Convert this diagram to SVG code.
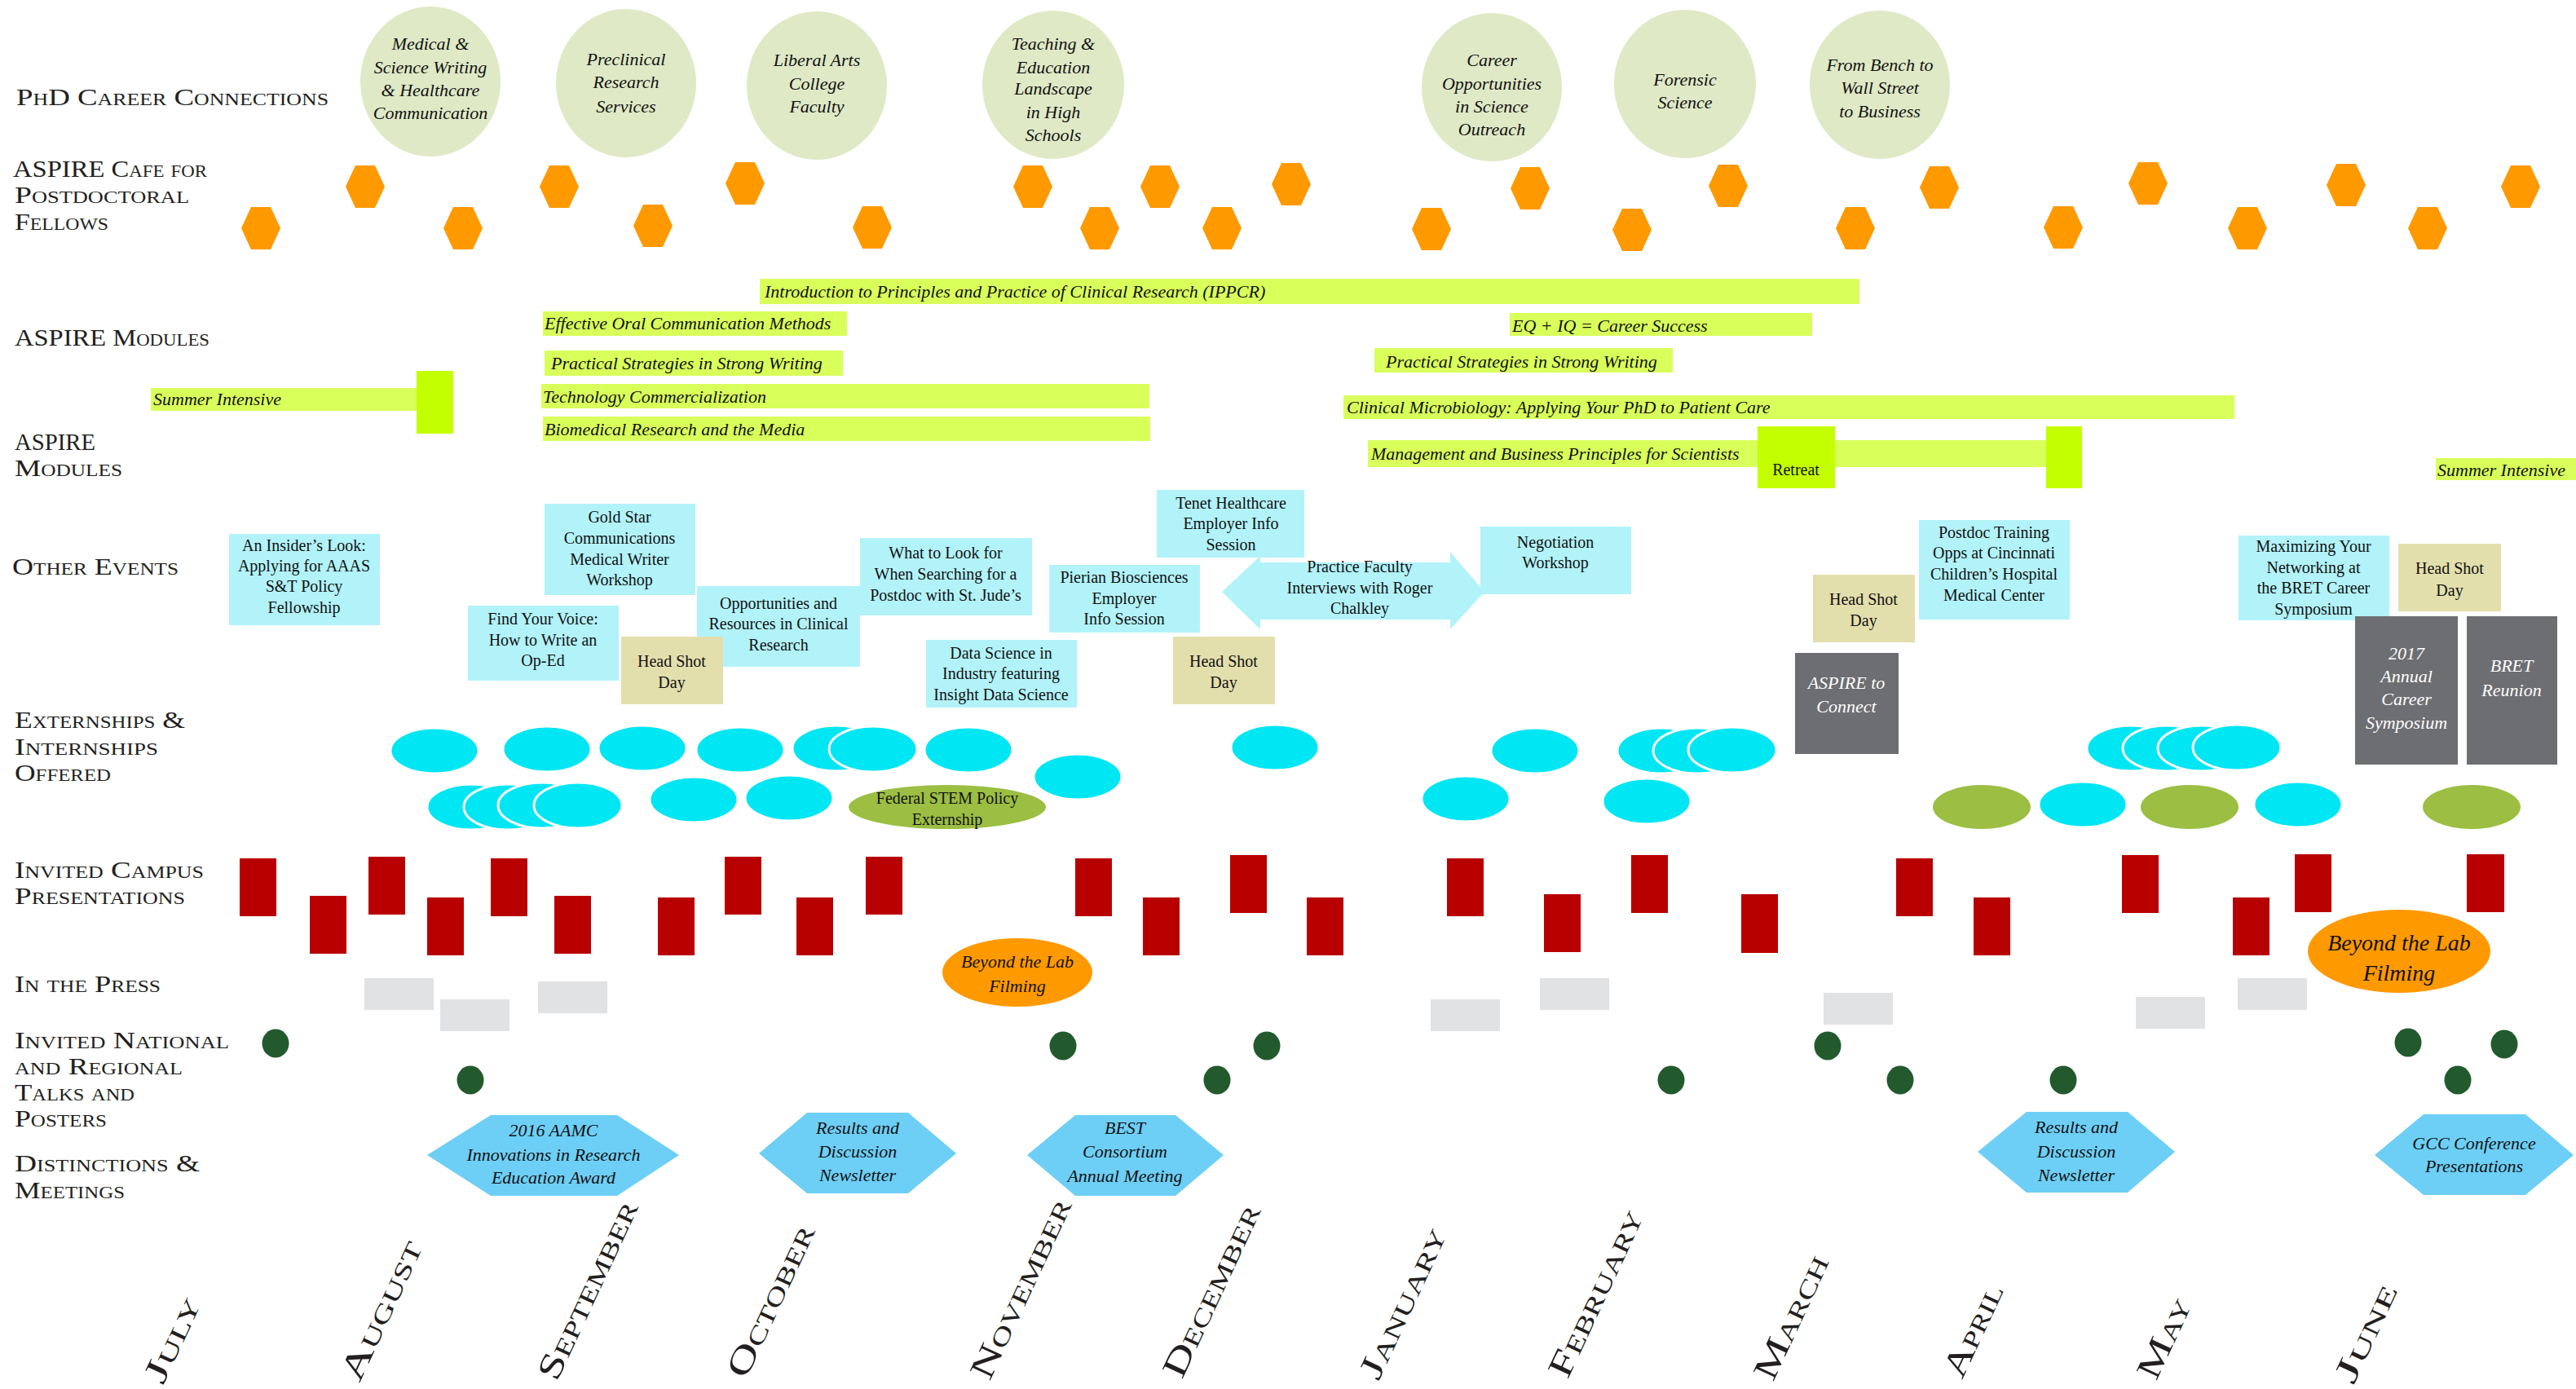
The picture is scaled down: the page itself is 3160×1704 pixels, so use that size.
<svg xmlns="http://www.w3.org/2000/svg" xmlns:xlink="http://www.w3.org/1999/xlink" width="3160" height="1704" viewBox="0 0 3160 1704">
<defs>
<style>
.lbl{font-family:"Liberation Serif","DejaVu Serif",serif;font-variant:small-caps;font-size:30px;fill:#231f20}
.mon{font-family:"Liberation Serif","DejaVu Serif",serif;font-variant:small-caps;font-size:42px;fill:#231f20}
.it{font-family:"Liberation Serif","DejaVu Serif",serif;font-style:italic;font-size:22px;fill:#111}
.mid{text-anchor:middle}
.rg{font-family:"Liberation Serif","DejaVu Serif",serif;font-size:20px;fill:#111;text-anchor:middle}
.wt{font-family:"Liberation Serif","DejaVu Serif",serif;font-style:italic;font-size:22px;fill:#fff;text-anchor:middle}
.cc{fill:#dfe9c6}
.cafe{fill:#ff9900}
.bar{fill:#d9ff5b}
.blk{fill:#c4ff00}
.ev{fill:#b2f3f9}
.hs{fill:#e3dfad}
.dk{fill:#6d6e71}
.ext{fill:#00e6f3;stroke:#fff;stroke-width:3}
.olv{fill:#9bbe43}
.red{fill:#b80000}
.prs{fill:#e1e2e4}
.tlk{fill:#225a2d}
.dis{fill:#6dcff6}
.btl{fill:#ff9900}
</style>
<polygon id="hx" points="-24,0 -12,-26 12,-26 24,0 12,26 -12,26"/>
</defs>
<rect width="3160" height="1704" fill="#fff"/>

<g id="row-labels">
<text class="lbl" x="20" y="129" textLength="383" lengthAdjust="spacingAndGlyphs">PhD Career Connections</text>
<text class="lbl" x="16" y="217" textLength="238" lengthAdjust="spacingAndGlyphs">ASPIRE Cafe for</text>
<text class="lbl" x="18" y="249" textLength="214" lengthAdjust="spacingAndGlyphs">Postdoctoral</text>
<text class="lbl" x="18" y="282" textLength="115" lengthAdjust="spacingAndGlyphs">Fellows</text>
<text class="lbl" x="18" y="424" textLength="239" lengthAdjust="spacingAndGlyphs">ASPIRE Modules</text>
<text class="lbl" x="18" y="552" textLength="99" lengthAdjust="spacingAndGlyphs">ASPIRE</text>
<text class="lbl" x="18" y="584" textLength="132" lengthAdjust="spacingAndGlyphs">Modules</text>
<text class="lbl" x="15" y="705" textLength="204" lengthAdjust="spacingAndGlyphs">Other Events</text>
<text class="lbl" x="18" y="893" textLength="209" lengthAdjust="spacingAndGlyphs">Externships &amp;</text>
<text class="lbl" x="18" y="926" textLength="176" lengthAdjust="spacingAndGlyphs">Internships</text>
<text class="lbl" x="18" y="958" textLength="118" lengthAdjust="spacingAndGlyphs">Offered</text>
<text class="lbl" x="18" y="1077" textLength="232" lengthAdjust="spacingAndGlyphs">Invited Campus</text>
<text class="lbl" x="18" y="1109" textLength="209" lengthAdjust="spacingAndGlyphs">Presentations</text>
<text class="lbl" x="18" y="1217" textLength="179" lengthAdjust="spacingAndGlyphs">In the Press</text>
<text class="lbl" x="18" y="1286" textLength="263" lengthAdjust="spacingAndGlyphs">Invited National</text>
<text class="lbl" x="18" y="1318" textLength="206" lengthAdjust="spacingAndGlyphs">and Regional</text>
<text class="lbl" x="18" y="1350" textLength="147" lengthAdjust="spacingAndGlyphs">Talks and</text>
<text class="lbl" x="18" y="1382" textLength="113" lengthAdjust="spacingAndGlyphs">Posters</text>
<text class="lbl" x="18" y="1437" textLength="227" lengthAdjust="spacingAndGlyphs">Distinctions &amp;</text>
<text class="lbl" x="18" y="1470" textLength="135" lengthAdjust="spacingAndGlyphs">Meetings</text>
</g>

<g id="career-connections">
<g id="cc1"><ellipse class="cc" cx="528" cy="100" rx="86" ry="92"/>
<text class="it mid" x="528" y="61">Medical &amp;</text><text class="it mid" x="528" y="90">Science Writing</text><text class="it mid" x="528" y="118">&amp; Healthcare</text><text class="it mid" x="528" y="146">Communication</text></g>
<g id="cc2"><ellipse class="cc" cx="768" cy="102" rx="86" ry="91"/>
<text class="it mid" x="768" y="80">Preclinical</text><text class="it mid" x="768" y="108">Research</text><text class="it mid" x="768" y="138">Services</text></g>
<g id="cc3"><ellipse class="cc" cx="1002" cy="105" rx="86" ry="91"/>
<text class="it mid" x="1002" y="81">Liberal Arts</text><text class="it mid" x="1002" y="110">College</text><text class="it mid" x="1002" y="138">Faculty</text></g>
<g id="cc4"><ellipse class="cc" cx="1292" cy="104" rx="87" ry="91"/>
<text class="it mid" x="1292" y="61">Teaching &amp;</text><text class="it mid" x="1292" y="90">Education</text><text class="it mid" x="1292" y="116">Landscape</text><text class="it mid" x="1292" y="145">in High</text><text class="it mid" x="1292" y="173">Schools</text></g>
<g id="cc5"><ellipse class="cc" cx="1830" cy="107" rx="86" ry="91"/>
<text class="it mid" x="1830" y="81">Career</text><text class="it mid" x="1830" y="110">Opportunities</text><text class="it mid" x="1830" y="138">in Science</text><text class="it mid" x="1830" y="166">Outreach</text></g>
<g id="cc6"><ellipse class="cc" cx="2067" cy="103" rx="87" ry="91"/>
<text class="it mid" x="2067" y="105">Forensic</text><text class="it mid" x="2067" y="133">Science</text></g>
<g id="cc7"><ellipse class="cc" cx="2306" cy="104" rx="86" ry="91"/>
<text class="it mid" x="2306" y="87">From Bench to</text><text class="it mid" x="2306" y="115">Wall Street</text><text class="it mid" x="2306" y="144">to Business</text></g>
</g>

<g id="aspire-cafe" class="cafe">
<use id="cafe1" href="#hx" x="320" y="280"/>
<use id="cafe2" href="#hx" x="448" y="229"/>
<use id="cafe3" href="#hx" x="568" y="280"/>
<use id="cafe4" href="#hx" x="686" y="229"/>
<use id="cafe5" href="#hx" x="801" y="277"/>
<use id="cafe6" href="#hx" x="914" y="225"/>
<use id="cafe7" href="#hx" x="1070" y="279"/>
<use id="cafe8" href="#hx" x="1267" y="229"/>
<use id="cafe9" href="#hx" x="1349" y="280"/>
<use id="cafe10" href="#hx" x="1423" y="229"/>
<use id="cafe11" href="#hx" x="1499" y="280"/>
<use id="cafe12" href="#hx" x="1584" y="226"/>
<use id="cafe13" href="#hx" x="1756" y="281"/>
<use id="cafe14" href="#hx" x="1877" y="231"/>
<use id="cafe15" href="#hx" x="2002" y="282"/>
<use id="cafe16" href="#hx" x="2120" y="228"/>
<use id="cafe17" href="#hx" x="2276" y="280"/>
<use id="cafe18" href="#hx" x="2379" y="230"/>
<use id="cafe19" href="#hx" x="2531" y="279"/>
<use id="cafe20" href="#hx" x="2635" y="225"/>
<use id="cafe21" href="#hx" x="2757" y="280"/>
<use id="cafe22" href="#hx" x="2878" y="227"/>
<use id="cafe23" href="#hx" x="2978" y="280"/>
<use id="cafe24" href="#hx" x="3092" y="229"/>
</g>

<g id="aspire-modules">
<g id="m-ippcr"><rect class="bar" x="932" y="342" width="1349" height="31"/><text class="it" x="938" y="365">Introduction to Principles and Practice of Clinical Research (IPPCR)</text></g>
<g id="m-oral"><rect class="bar" x="666" y="382" width="373" height="30"/><text class="it" x="668" y="404">Effective Oral Communication Methods</text></g>
<g id="m-writing1"><rect class="bar" x="668" y="430" width="366" height="31"/><text class="it" x="676" y="453">Practical Strategies in Strong Writing</text></g>
<g id="m-techcomm"><rect class="bar" x="664" y="471" width="746" height="30"/><text class="it" x="666" y="494">Technology Commercialization</text></g>
<g id="m-media"><rect class="bar" x="666" y="511" width="745" height="30"/><text class="it" x="668" y="534">Biomedical Research and the Media</text></g>
<g id="m-summer1"><rect class="bar" x="185" y="476" width="326" height="28"/><text class="it" x="188" y="497">Summer Intensive</text><rect class="blk" x="511" y="455" width="45" height="77"/></g>
<g id="m-eqiq"><rect class="bar" x="1852" y="384" width="371" height="28"/><text class="it" x="1855" y="407">EQ + IQ = Career Success</text></g>
<g id="m-writing2"><rect class="bar" x="1686" y="427" width="366" height="30"/><text class="it" x="1700" y="451">Practical Strategies in Strong Writing</text></g>
<g id="m-micro"><rect class="bar" x="1648" y="485" width="1093" height="29"/><text class="it" x="1652" y="507">Clinical Microbiology: Applying Your PhD to Patient Care</text></g>
<g id="m-mgmt"><rect class="bar" x="1678" y="540" width="832" height="33"/><text class="it" x="1682" y="564">Management and Business Principles for Scientists</text>
<rect class="blk" x="2156" y="523" width="95" height="76"/><text class="rg" x="2203" y="583">Retreat</text>
<rect class="blk" x="2510" y="523" width="44" height="76"/></g>
<g id="m-summer2"><rect class="bar" x="2988" y="562" width="172" height="27"/><text class="it" x="2990" y="584">Summer Intensive</text></g>
</g>

<g id="other-events">
<g id="ev-insider"><rect class="ev" x="281" y="655" width="185" height="112"/>
<text class="rg" x="373" y="676">An Insider’s Look:</text><text class="rg" x="373" y="701">Applying for AAAS</text><text class="rg" x="373" y="726">S&amp;T Policy</text><text class="rg" x="373" y="752">Fellowship</text></g>
<g id="ev-goldstar"><rect class="ev" x="668" y="618" width="185" height="112"/>
<text class="rg" x="760" y="641">Gold Star</text><text class="rg" x="760" y="667">Communications</text><text class="rg" x="760" y="693">Medical Writer</text><text class="rg" x="760" y="718">Workshop</text></g>
<g id="ev-voice"><rect class="ev" x="574" y="743" width="185" height="92"/>
<text class="rg" x="666" y="766">Find Your Voice:</text><text class="rg" x="666" y="792">How to Write an</text><text class="rg" x="666" y="817">Op-Ed</text></g>
<g id="ev-opps"><rect class="ev" x="855" y="719" width="200" height="99"/>
<text class="rg" x="955" y="747">Opportunities and</text><text class="rg" x="955" y="772">Resources in Clinical</text><text class="rg" x="955" y="798">Research</text></g>
<g id="ev-head1"><rect class="hs" x="762" y="781" width="125" height="83"/>
<text class="rg" x="824" y="818">Head Shot</text><text class="rg" x="824" y="844">Day</text></g>
<g id="ev-lookfor"><rect class="ev" x="1055" y="660" width="211" height="95"/>
<text class="rg" x="1160" y="685">What to Look for</text><text class="rg" x="1160" y="711">When Searching for a</text><text class="rg" x="1160" y="737">Postdoc with St. Jude’s</text></g>
<g id="ev-pierian"><rect class="ev" x="1287" y="693" width="185" height="83"/>
<text class="rg" x="1379" y="715">Pierian Biosciences</text><text class="rg" x="1379" y="741">Employer</text><text class="rg" x="1379" y="766">Info Session</text></g>
<g id="ev-datasci"><rect class="ev" x="1136" y="785" width="185" height="83"/>
<text class="rg" x="1228" y="808">Data Science in</text><text class="rg" x="1228" y="833">Industry featuring</text><text class="rg" x="1228" y="859">Insight Data Science</text></g>
<g id="ev-tenet"><rect class="ev" x="1419" y="601" width="181" height="83"/>
<text class="rg" x="1510" y="624">Tenet Healthcare</text><text class="rg" x="1510" y="649">Employer Info</text><text class="rg" x="1510" y="675">Session</text></g>
<g id="ev-head2"><rect class="hs" x="1439" y="781" width="125" height="83"/>
<text class="rg" x="1501" y="818">Head Shot</text><text class="rg" x="1501" y="844">Day</text></g>
<g id="ev-practice"><polygon class="ev" points="1499,726 1546,682 1546,690 1779,690 1779,677 1821,726 1779,772 1779,760 1546,760 1546,772"/>
<text class="rg" x="1668" y="702">Practice Faculty</text><text class="rg" x="1668" y="728">Interviews with Roger</text><text class="rg" x="1668" y="753">Chalkley</text></g>
<g id="ev-negotiation"><rect class="ev" x="1816" y="646" width="185" height="83"/>
<text class="rg" x="1908" y="672">Negotiation</text><text class="rg" x="1908" y="697">Workshop</text></g>
<g id="ev-head3"><rect class="hs" x="2224" y="705" width="125" height="83"/>
<text class="rg" x="2286" y="742">Head Shot</text><text class="rg" x="2286" y="768">Day</text></g>
<g id="ev-postdoc"><rect class="ev" x="2354" y="638" width="185" height="122"/>
<text class="rg" x="2446" y="660">Postdoc Training</text><text class="rg" x="2446" y="685">Opps at Cincinnati</text><text class="rg" x="2446" y="711">Children’s Hospital</text><text class="rg" x="2446" y="737">Medical Center</text></g>
<g id="ev-connect"><rect class="dk" x="2202" y="801" width="127" height="124"/>
<text class="wt" x="2265" y="845">ASPIRE to</text><text class="wt" x="2265" y="874">Connect</text></g>
<g id="ev-maximizing"><rect class="ev" x="2746" y="657" width="185" height="104"/>
<text class="rg" x="2838" y="677">Maximizing Your</text><text class="rg" x="2838" y="703">Networking at</text><text class="rg" x="2838" y="728">the BRET Career</text><text class="rg" x="2838" y="754">Symposium</text></g>
<g id="ev-head4"><rect class="hs" x="2942" y="667" width="126" height="83"/>
<text class="rg" x="3005" y="704">Head Shot</text><text class="rg" x="3005" y="731">Day</text></g>
<g id="ev-symposium"><rect class="dk" x="2889" y="756" width="126" height="182"/>
<text class="wt" x="2952" y="809">2017</text><text class="wt" x="2952" y="837">Annual</text><text class="wt" x="2952" y="865">Career</text><text class="wt" x="2952" y="894">Symposium</text></g>
<g id="ev-reunion"><rect class="dk" x="3026" y="756" width="111" height="182"/>
<text class="wt" x="3081" y="824">BRET</text><text class="wt" x="3081" y="854">Reunion</text></g>
</g>

<g id="externships">
<ellipse id="x1" class="ext" cx="533" cy="921" rx="54" ry="28"/>
<ellipse id="x2" class="ext" cx="671" cy="919" rx="54" ry="28"/>
<ellipse id="x3" class="ext" cx="788" cy="918" rx="54" ry="28"/>
<ellipse id="x4" class="ext" cx="908" cy="920" rx="54" ry="28"/>
<ellipse id="x5" class="ext" cx="1026" cy="918" rx="54" ry="28"/>
<ellipse id="x6" class="ext" cx="1071" cy="919" rx="54" ry="28"/>
<ellipse id="x7" class="ext" cx="1188" cy="920" rx="54" ry="28"/>
<ellipse id="x8" class="ext" cx="1322" cy="953" rx="54" ry="28"/>
<ellipse id="x9" class="ext" cx="1564" cy="917" rx="54" ry="28"/>
<ellipse id="x10" class="ext" cx="578" cy="990" rx="54" ry="28"/>
<ellipse id="x11" class="ext" cx="623" cy="990" rx="54" ry="28"/>
<ellipse id="x12" class="ext" cx="665" cy="988" rx="54" ry="28"/>
<ellipse id="x13" class="ext" cx="709" cy="988" rx="54" ry="28"/>
<ellipse id="x14" class="ext" cx="851" cy="981" rx="54" ry="28"/>
<ellipse id="x15" class="ext" cx="968" cy="979" rx="54" ry="28"/>
<g id="x-federal"><ellipse class="olv" cx="1162" cy="990" rx="121" ry="27"/>
<text class="rg" x="1162" y="986">Federal STEM Policy</text><text class="rg" x="1162" y="1012">Externship</text></g>
<ellipse id="x16" class="ext" cx="1883" cy="921" rx="54" ry="28"/>
<ellipse id="x17" class="ext" cx="1798" cy="980" rx="54" ry="28"/>
<ellipse id="x18" class="ext" cx="2038" cy="921" rx="54" ry="28"/>
<ellipse id="x19" class="ext" cx="2082" cy="921" rx="54" ry="28"/>
<ellipse id="x20" class="ext" cx="2125" cy="920" rx="54" ry="28"/>
<ellipse id="x21" class="ext" cx="2020" cy="983" rx="54" ry="28"/>
<ellipse id="x22" class="ext" cx="2614" cy="918" rx="54" ry="28"/>
<ellipse id="x23" class="ext" cx="2658" cy="918" rx="54" ry="28"/>
<ellipse id="x24" class="ext" cx="2701" cy="918" rx="54" ry="28"/>
<ellipse id="x25" class="ext" cx="2744" cy="917" rx="54" ry="28"/>
<ellipse id="x26" class="olv" cx="2431" cy="990" rx="60" ry="27"/>
<ellipse id="x27" class="ext" cx="2555" cy="987" rx="54" ry="28"/>
<ellipse id="x28" class="olv" cx="2686" cy="990" rx="60" ry="27"/>
<ellipse id="x29" class="ext" cx="2819" cy="987" rx="54" ry="28"/>
<ellipse id="x30" class="olv" cx="3032" cy="990" rx="60" ry="27"/>
</g>

<g id="campus-presentations" class="red">
<rect id="p1" x="294" y="1053" width="45" height="71"/>
<rect id="p2" x="380" y="1099" width="45" height="71"/>
<rect id="p3" x="452" y="1051" width="45" height="71"/>
<rect id="p4" x="524" y="1101" width="45" height="71"/>
<rect id="p5" x="602" y="1053" width="45" height="71"/>
<rect id="p6" x="680" y="1099" width="45" height="71"/>
<rect id="p7" x="807" y="1101" width="45" height="71"/>
<rect id="p8" x="889" y="1051" width="45" height="71"/>
<rect id="p9" x="977" y="1101" width="45" height="71"/>
<rect id="p10" x="1062" y="1051" width="45" height="71"/>
<rect id="p11" x="1319" y="1053" width="45" height="71"/>
<rect id="p12" x="1402" y="1101" width="45" height="71"/>
<rect id="p13" x="1509" y="1049" width="45" height="71"/>
<rect id="p14" x="1603" y="1101" width="45" height="71"/>
<rect id="p15" x="1775" y="1053" width="45" height="71"/>
<rect id="p16" x="1894" y="1097" width="45" height="71"/>
<rect id="p17" x="2001" y="1049" width="45" height="71"/>
<rect id="p18" x="2136" y="1097" width="45" height="72"/>
<rect id="p19" x="2326" y="1053" width="45" height="71"/>
<rect id="p20" x="2421" y="1101" width="45" height="71"/>
<rect id="p21" x="2603" y="1049" width="45" height="71"/>
<rect id="p22" x="2739" y="1101" width="45" height="71"/>
<rect id="p23" x="2815" y="1048" width="45" height="71"/>
<rect id="p24" x="3026" y="1048" width="46" height="71"/>
</g>

<g id="press">
<rect id="pr1" class="prs" x="447" y="1200" width="85" height="39"/>
<rect id="pr2" class="prs" x="540" y="1226" width="85" height="39"/>
<rect id="pr3" class="prs" x="660" y="1204" width="85" height="39"/>
<rect id="pr4" class="prs" x="1755" y="1226" width="85" height="39"/>
<rect id="pr5" class="prs" x="1889" y="1200" width="85" height="39"/>
<rect id="pr6" class="prs" x="2237" y="1218" width="85" height="39"/>
<rect id="pr7" class="prs" x="2620" y="1223" width="85" height="39"/>
<rect id="pr8" class="prs" x="2745" y="1200" width="85" height="39"/>
<g id="btl1"><ellipse class="btl" cx="1248" cy="1193" rx="92" ry="42"/>
<text class="it mid" x="1248" y="1187">Beyond the Lab</text><text class="it mid" x="1248" y="1217">Filming</text></g>
<g id="btl2"><ellipse class="btl" cx="2943" cy="1167" rx="112" ry="51"/>
<text class="it mid" x="2943" y="1166" style="font-size:28px">Beyond the Lab</text><text class="it mid" x="2943" y="1203" style="font-size:28px">Filming</text></g>
</g>

<g id="talks" class="tlk">
<ellipse id="t1" cx="338" cy="1280" rx="16.5" ry="17.5"/>
<ellipse id="t2" cx="577" cy="1325" rx="16.5" ry="17.5"/>
<ellipse id="t3" cx="1304" cy="1283" rx="16.5" ry="17.5"/>
<ellipse id="t4" cx="1554" cy="1283" rx="16.5" ry="17.5"/>
<ellipse id="t5" cx="1493" cy="1325" rx="16.5" ry="17.5"/>
<ellipse id="t6" cx="2050" cy="1325" rx="16.5" ry="17.5"/>
<ellipse id="t7" cx="2242" cy="1283" rx="16.5" ry="17.5"/>
<ellipse id="t8" cx="2331" cy="1325" rx="16.5" ry="17.5"/>
<ellipse id="t9" cx="2531" cy="1325" rx="16.5" ry="17.5"/>
<ellipse id="t10" cx="2954" cy="1279" rx="16.5" ry="17.5"/>
<ellipse id="t11" cx="3072" cy="1281" rx="16.5" ry="17.5"/>
<ellipse id="t12" cx="3015" cy="1325" rx="16.5" ry="17.5"/>
</g>

<g id="distinctions">
<g id="d1"><polygon class="dis" points="524,1417 602,1368 757,1368 833,1417 757,1467 602,1467"/>
<text class="it mid" x="679" y="1394">2016 AAMC</text><text class="it mid" x="679" y="1424">Innovations in Research</text><text class="it mid" x="679" y="1452">Education Award</text></g>
<g id="d2"><polygon class="dis" points="931,1415 990,1365 1114,1365 1173,1415 1114,1464 990,1464"/>
<text class="it mid" x="1052" y="1391">Results and</text><text class="it mid" x="1052" y="1420">Discussion</text><text class="it mid" x="1052" y="1449">Newsletter</text></g>
<g id="d3"><polygon class="dis" points="1260,1417 1319,1368 1442,1368 1501,1417 1442,1467 1319,1467"/>
<text class="it mid" x="1380" y="1391">BEST</text><text class="it mid" x="1380" y="1420">Consortium</text><text class="it mid" x="1380" y="1450">Annual Meeting</text></g>
<g id="d4"><polygon class="dis" points="2426,1413 2486,1364 2610,1364 2668,1413 2610,1463 2486,1463"/>
<text class="it mid" x="2547" y="1390">Results and</text><text class="it mid" x="2547" y="1420">Discussion</text><text class="it mid" x="2547" y="1449">Newsletter</text></g>
<g id="d5"><polygon class="dis" points="2913,1417 2973,1367 3098,1367 3157,1417 3098,1466 2973,1466"/>
<text class="it mid" x="3035" y="1410">GCC Conference</text><text class="it mid" x="3035" y="1438">Presentations</text></g>
</g>

<g id="months">
<text class="mon" x="200" y="1700" transform="rotate(-65 200 1700)" textLength="112" lengthAdjust="spacingAndGlyphs">July</text>
<text class="mon" x="441" y="1697" transform="rotate(-65 441 1697)" textLength="185" lengthAdjust="spacingAndGlyphs">August</text>
<text class="mon" x="683" y="1696" transform="rotate(-65 683 1696)" textLength="238" lengthAdjust="spacingAndGlyphs">September</text>
<text class="mon" x="915" y="1693" transform="rotate(-65 915 1693)" textLength="202" lengthAdjust="spacingAndGlyphs">October</text>
<text class="mon" x="1214" y="1695" transform="rotate(-65 1214 1695)" textLength="240" lengthAdjust="spacingAndGlyphs">November</text>
<text class="mon" x="1450" y="1693" transform="rotate(-65 1450 1693)" textLength="230" lengthAdjust="spacingAndGlyphs">December</text>
<text class="mon" x="1691" y="1695" transform="rotate(-65 1691 1695)" textLength="200" lengthAdjust="spacingAndGlyphs">January</text>
<text class="mon" x="1923" y="1693" transform="rotate(-65 1923 1693)" textLength="222" lengthAdjust="spacingAndGlyphs">February</text>
<text class="mon" x="2175" y="1696" transform="rotate(-65 2175 1696)" textLength="164" lengthAdjust="spacingAndGlyphs">March</text>
<text class="mon" x="2407" y="1693" transform="rotate(-65 2407 1693)" textLength="122" lengthAdjust="spacingAndGlyphs">April</text>
<text class="mon" x="2645" y="1695" transform="rotate(-65 2645 1695)" textLength="105" lengthAdjust="spacingAndGlyphs">May</text>
<text class="mon" x="2887" y="1700" transform="rotate(-65 2887 1700)" textLength="130" lengthAdjust="spacingAndGlyphs">June</text>
</g>

<g id="connectors"/>
</svg>
